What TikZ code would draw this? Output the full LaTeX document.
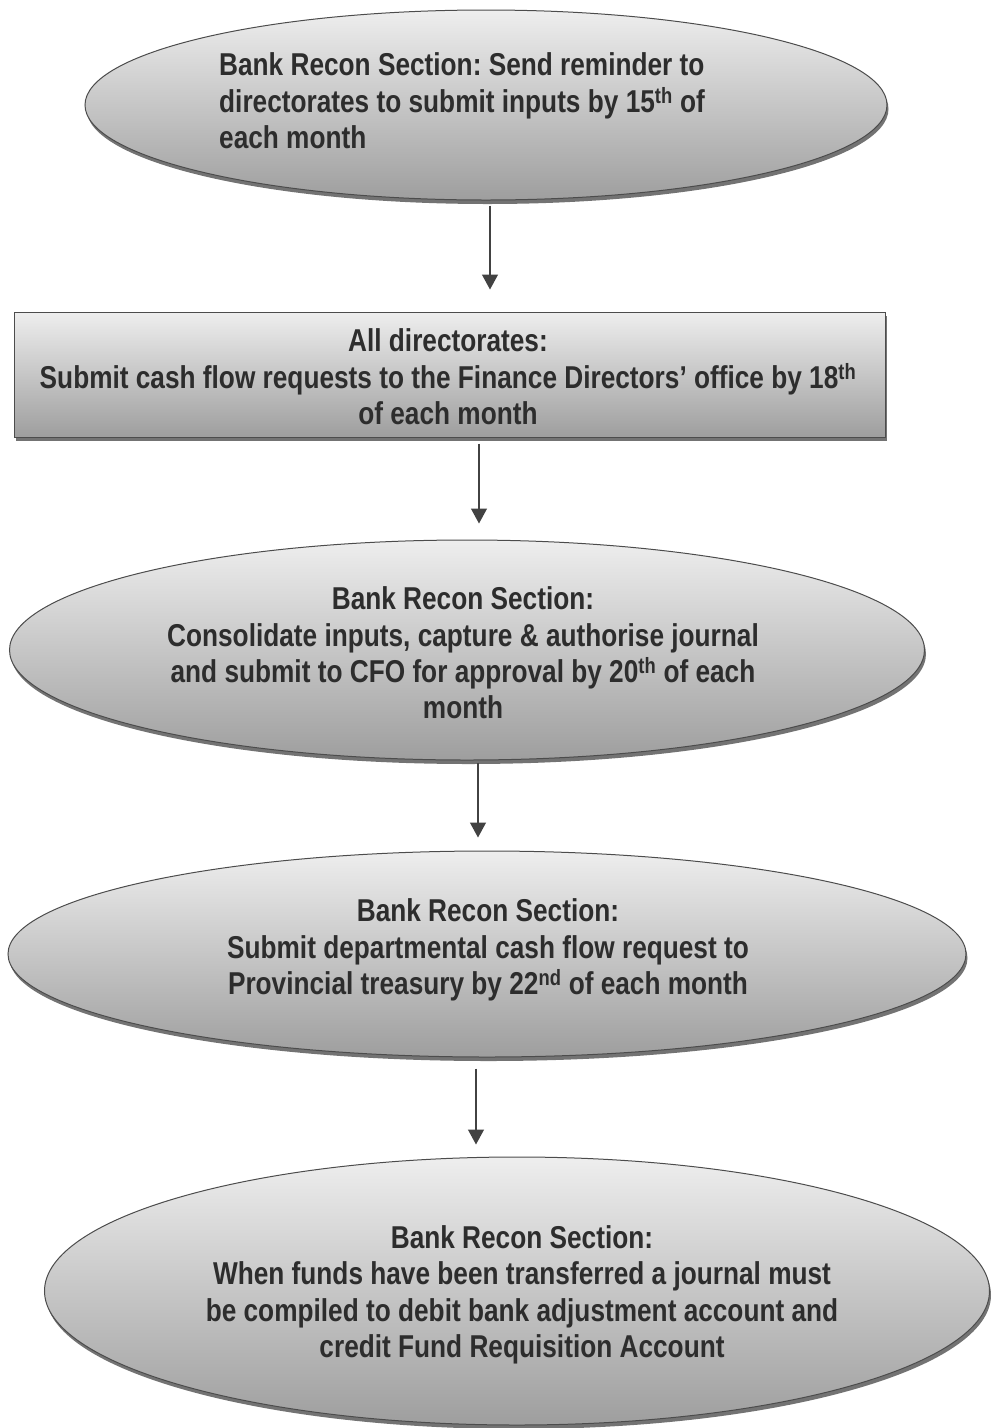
\documentclass[tikz,border=0pt]{standalone}
\usepackage{fontspec}
\usepackage{tikz}
\usetikzlibrary{shapes.geometric, arrows.meta, shadows}
\newfontfamily\stepfont[FakeStretch=0.83]{Liberation Sans}
\frenchspacing
\definecolor{mydark}{RGB}{45,45,45}
\definecolor{shadetop}{RGB}{238,238,238}
\definecolor{shadebot}{RGB}{158,158,158}
\definecolor{myshadow}{RGB}{100,100,100}
\tikzset{
  stepshape/.style={draw=mydark!85, line width=1pt,
    top color=shadetop, bottom color=shadebot,
    drop shadow={shadow xshift=1.5pt, shadow yshift=-4pt, fill=myshadow, opacity=0.9}},
  stepoval/.style={stepshape, ellipse},
  stepbox/.style={stepshape, rectangle},
  steptext/.style={font=\stepfont\bfseries\fontsize{31.6}{36.4}\selectfont,
    text=mydark, align=center, inner sep=0pt},
  flow/.style={-{Triangle[width=16pt,length=15pt]}, line width=1.3pt, color=mydark!90}
}
\begin{document}
\begin{tikzpicture}[x=1pt, y=-1pt]
  \useasboundingbox (0,0) rectangle (992,1428);

  % Shapes of the five steps
  \node[stepoval, minimum width=802pt, minimum height=190pt] (s1) at (486,105) {};
  \node[stepbox, minimum width=871pt, minimum height=125pt] (s2) at (449.5,374.5) {};
  \node[stepoval, minimum width=915pt, minimum height=220pt] (s3) at (467,650) {};
  \node[stepoval, minimum width=958pt, minimum height=206pt] (s4) at (487,954) {};
  \node[stepoval, minimum width=945pt, minimum height=268pt] (s5) at (517,1291) {};

  % Texts
  \node[steptext, align=left] (t1) at (462,101)
    {Bank Recon Section: Send reminder to\\directorates to submit inputs by 15\textsuperscript{th} of\\each month};
  \node[steptext] (t2) at (448,377)
    {All directorates:\\Submit cash flow requests to the Finance Directors’ office by 18\textsuperscript{th}\\of each month};
  \node[steptext] (t3) at (463,653)
    {Bank Recon Section:\\Consolidate inputs, capture \& authorise journal\\and submit to CFO for approval by 20\textsuperscript{th} of each\\month};
  \node[steptext] (t4) at (488,950)
    {Bank Recon Section:\\Submit departmental cash flow request to\\Provincial treasury by 22\textsuperscript{nd} of each month};
  \node[steptext] (t5) at (522,1295)
    {Bank Recon Section:\\When funds have been transferred a journal must\\be compiled to debit bank adjustment account and\\credit Fund Requisition Account};

  % Arrows between the steps
  \foreach \from/\to/\ax/\gapa/\gapb in {s1/s2/490/5/22, s2/s3/479/6/16, s3/s4/478/2/13, s4/s5/476/11/12}{
    \path (\ax,0) coordinate (axis);
    \draw[flow, shorten <=\gapa pt, shorten >=\gapb pt] (\from.south -| axis) -- (\to.north -| axis);
  }
\end{tikzpicture}
\end{document}
